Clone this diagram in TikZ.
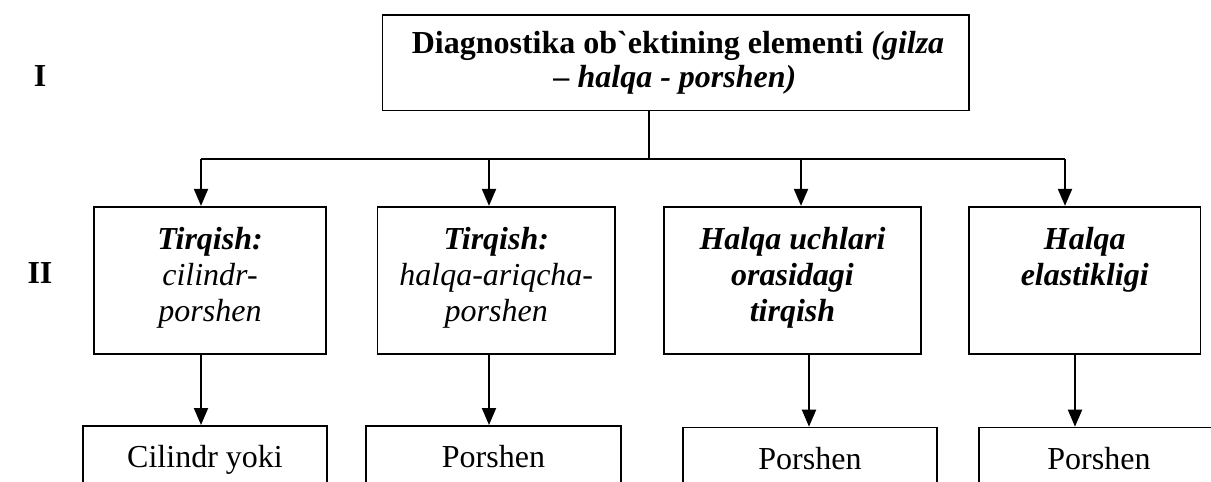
\documentclass[tikz,border=0pt]{standalone}
\usepackage{fontspec}
\setmainfont{Liberation Serif}[Ligatures=TeXOff]
\usetikzlibrary{arrows.meta}

\tikzset{
  box/.style={draw, line width=1.7pt, inner sep=0pt, minimum width=#1},
  link/.style={line width=2pt},
  arr/.style={line width=2pt, -{Triangle[length=17pt,width=14pt]}},
  txt/.style={anchor=base, inner sep=0pt, font=\fontsize{32}{36}\selectfont},
  lvl/.style={txt, font=\fontsize{32}{36}\selectfont\bfseries},
}

\begin{document}
\begin{tikzpicture}[x=1pt, y=-1pt]
\useasboundingbox (0,0) rectangle (1211,482);
\clip (0,0) rectangle (1211,482);

% level labels
\node[lvl] (lvI)  at (40,86)  {I};
\node[lvl] (lvII) at (40,283) {II};

% top element box
\node[box=586.5pt, minimum height=95.5pt] (top) at (675.75,62.75) {};
\node[txt] (topA) at (678,53) {\textbf{Diagnostika ob\symbol{96}ektining elementi \textit{(gilza}}};
\node[txt] (topB) at (675,87) {\textbf{\textit{– halqa - porshen)}}};

% second level boxes
\node[box=232pt,   minimum height=147.3pt] (b1) at (210,280.35)    {};
\node[box=237.5pt, minimum height=147.3pt] (b2) at (496.25,280.35) {};
\node[box=257pt,   minimum height=147.3pt] (b3) at (792.5,280.35)  {};
\node[box=231.5pt, minimum height=147.3pt] (b4) at (1084.75,280.35){};

\node[txt] (b1a) at (210,249) {\textbf{\textit{Tirqish:}}};
\node[txt] (b1b) at (210,285) {\textit{cilindr-}};
\node[txt] (b1c) at (210,321) {\textit{porshen}};

\node[txt] (b2a) at (496.25,249) {\textbf{\textit{Tirqish:}}};
\node[txt] (b2b) at (496.25,285) {\textit{halqa-ariqcha-}};
\node[txt] (b2c) at (496.25,321) {\textit{porshen}};

\node[txt] (b3a) at (792.5,249) {\textbf{\textit{Halqa uchlari}}};
\node[txt] (b3b) at (792.5,285) {\textbf{\textit{orasidagi}}};
\node[txt] (b3c) at (792.5,321) {\textbf{\textit{tirqish}}};

\node[txt] (b4a) at (1084.75,249) {\textbf{\textit{Halqa}}};
\node[txt] (b4b) at (1084.75,285) {\textbf{\textit{elastikligi}}};

% third level boxes (run past the lower edge)
\node[box=244pt, minimum height=120pt, anchor=north] (c1) at (205,425)   {};
\node[box=255pt, minimum height=120pt, anchor=north] (c2) at (493.5,425) {};
\node[box=254pt, minimum height=120pt, anchor=north] (c3) at (810,426.7) {};
\node[box=240pt, minimum height=120pt, anchor=north] (c4) at (1099,426.7){};

\node[txt] (c1a) at (205,467)   {Cilindr yoki};
\node[txt] (c2a) at (493.5,467) {Porshen};
\node[txt] (c3a) at (810,469)   {Porshen};
\node[txt] (c4a) at (1099,469)  {Porshen};

% tree from the top box
\coordinate (hub) at (649,158.5);
\coordinate (j1) at (201,158.5);
\coordinate (j2) at (489,158.5);
\coordinate (j3) at (801,158.5);
\coordinate (j4) at (1065,158.5);
\draw[link] (top.south -| hub) -- (hub);
\draw[link] (j1) -- (j4);
\draw[arr] (j1) -- (j1 |- b1.north);
\draw[arr] (j2) -- (j2 |- b2.north);
\draw[arr] (j3) -- (j3 |- b3.north);
\draw[arr] (j4) -- (j4 |- b4.north);

% links down to the third level
\coordinate (d1) at (201,0);
\coordinate (d2) at (489,0);
\coordinate (d3) at (809,0);
\coordinate (d4) at (1075,0);
\draw[arr] (b1.south -| d1) -- (c1.north -| d1);
\draw[arr] (b2.south -| d2) -- (c2.north -| d2);
\draw[arr] (b3.south -| d3) -- (c3.north -| d3);
\draw[arr] (b4.south -| d4) -- (c4.north -| d4);
\end{tikzpicture}
\end{document}
